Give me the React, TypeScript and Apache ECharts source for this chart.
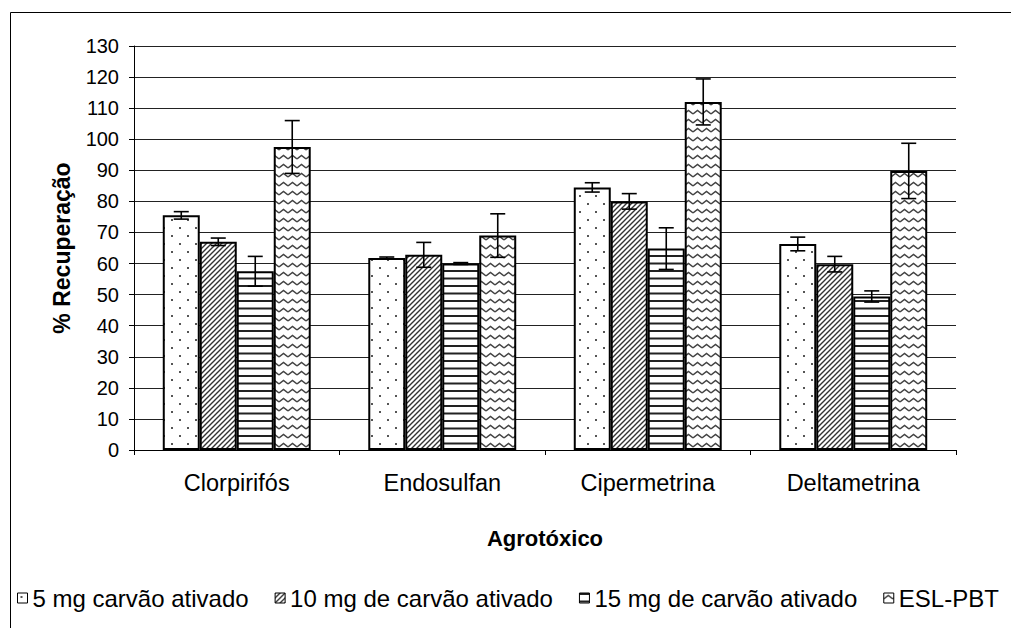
import React, { useEffect, useRef } from "react";
import * as echarts from "echarts";

const categories = ["Clorpirifós", "Endosulfan", "Cipermetrina", "Deltametrina"];
const seriesNames = [
  "5 mg carvão ativado",
  "10 mg de carvão ativado",
  "15 mg de carvão ativado",
  "ESL-PBT",
];
const values5mg = [75.5, 61.8, 84.5, 66.3];
const err5mg = [1.2, 0.3, 1.5, 2.2];
const values10mg = [67.0, 62.8, 80.0, 59.8];
const err10mg = [1.2, 4.0, 2.5, 2.5];
const values15mg = [57.5, 60.0, 64.8, 49.4];
const err15mg = [4.8, 0.3, 6.7, 1.8];
const valuesESL = [97.5, 69.0, 112.0, 89.8];
const errESL = [8.5, 7.0, 7.4, 8.9];

const yMin = 0;
const yMax = 130;
const yInterval = 10;

const FONT = "'Liberation Sans', Arial, sans-serif";

function makePattern(kind: string): HTMLCanvasElement {
  const c = document.createElement("canvas");
  let w = 16;
  let h = 16;
  if (kind === "diag") { w = 5; h = 5; }
  if (kind === "hline") { w = 8; h = 15; }
  if (kind === "wave") { w = 9; h = 9; }
  c.width = w;
  c.height = h;
  const ctx = c.getContext("2d")!;
  ctx.fillStyle = "#ffffff";
  ctx.fillRect(0, 0, w, h);
  if (kind === "dots") {
    ctx.fillStyle = "#555";
    ctx.fillRect(3, 3, 2, 2);
    ctx.fillRect(11, 11, 2, 2);
  } else if (kind === "diag") {
    ctx.strokeStyle = "#333";
    ctx.lineWidth = 1.4;
    ctx.beginPath();
    ctx.moveTo(-1, h + 1);
    ctx.lineTo(w + 1, -1);
    ctx.moveTo(-2, 2);
    ctx.lineTo(2, -2);
    ctx.moveTo(w - 2, h + 2);
    ctx.lineTo(w + 2, h - 2);
    ctx.stroke();
  } else if (kind === "hline") {
    ctx.fillStyle = "#222";
    ctx.fillRect(0, 0, w, 2);
    ctx.fillRect(0, 7.5, w, 2);
  } else if (kind === "wave") {
    ctx.strokeStyle = "#444";
    ctx.lineWidth = 1.5;
    ctx.beginPath();
    ctx.moveTo(0, 6);
    ctx.lineTo(4.5, 2.5);
    ctx.lineTo(9, 6);
    ctx.stroke();
  }
  return c;
}

export default function App() {
  const ref = useRef<HTMLDivElement>(null);
  useEffect(() => {
    if (!ref.current) return;
    const chart = echarts.init(ref.current, undefined, { renderer: "svg" });
    const allValues = [values5mg, values10mg, values15mg, valuesESL];
    const allErrs = [err5mg, err10mg, err15mg, errESL];
    const kinds = ["dots", "diag", "hline", "wave"];
    const catGap = 0.28;
    const barSeries = allValues.map((vals, i) => ({
      type: "bar",
      name: seriesNames[i],
      data: vals,
      barGap: "0%",
      barCategoryGap: catGap * 100 + "%",
      itemStyle: {
        color: { image: makePattern(kinds[i]), repeat: "repeat" },
        borderColor: "#000",
        borderWidth: 2,
      },
      emphasis: { disabled: true },
    }));
    const errSeries = allValues.map((vals, i) => ({
      type: "custom",
      name: seriesNames[i] + "_err",
      z: 10,
      data: vals.map((v, j) => [j, v, allErrs[i][j]]),
      encode: { x: 0, y: 1 },
      renderItem: (params: any, api: any) => {
        const idx = api.value(0);
        const v = api.value(1);
        const e = api.value(2);
        const band = api.size([1, 0])[0];
        const barW = (band * (1 - catGap)) / 4;
        const center = api.coord([idx, 0])[0];
        const x = center + (i - 1.5) * barW;
        const top = api.coord([idx, v + e])[1];
        const bot = api.coord([idx, v - e])[1];
        const hw = 7.5;
        const st = { stroke: "#000", lineWidth: 1.6 };
        return {
          type: "group",
          children: [
            { type: "line", shape: { x1: x, y1: top, x2: x, y2: bot }, style: st },
            { type: "line", shape: { x1: x - hw, y1: top, x2: x + hw, y2: top }, style: st },
            { type: "line", shape: { x1: x - hw, y1: bot, x2: x + hw, y2: bot }, style: st },
          ],
        };
      },
    }));
    chart.setOption({
      animation: false,
      backgroundColor: "#ffffff",
      textStyle: { fontFamily: FONT },
      grid: {
        left: 134,
        right: 55,
        top: 46,
        bottom: 178,
        outerBoundsMode: "none",
      },
      legend: {
        data: seriesNames,
        left: 12,
        top: 581,
        width: 2000,
        orient: "horizontal",
        itemWidth: 10,
        itemHeight: 10,
        itemGap: 26,
        selectedMode: false,
        icon: "rect",
        itemStyle: { borderColor: "#000", borderWidth: 1 },
        textStyle: { fontSize: 24, color: "#000", fontFamily: FONT },
      },
      graphic: [
        {
          type: "rect",
          shape: { x: 10.5, y: 12.5, width: 1200, height: 800 },
          style: { fill: "none", stroke: "#000", lineWidth: 1 },
          silent: true,
          z: -1,
        },
      ],
      xAxis: {
        type: "category",
        data: categories,
        name: "Agrotóxico",
        nameLocation: "middle",
        nameGap: 77,
        nameTextStyle: { fontSize: 22, fontWeight: "bold", color: "#000", fontFamily: FONT },
        axisLine: { lineStyle: { color: "#000", width: 1 } },
        axisTick: { show: true, length: 5, lineStyle: { color: "#000" } },
        axisLabel: { fontSize: 23.5, color: "#000", margin: 21, fontFamily: FONT },
        splitLine: { show: false },
      },
      yAxis: {
        type: "value",
        min: yMin,
        max: yMax,
        interval: yInterval,
        name: "% Recuperação",
        nameLocation: "middle",
        nameGap: 61,
        nameTextStyle: { fontSize: 23, fontWeight: "bold", color: "#000", fontFamily: FONT },
        axisLine: { show: true, lineStyle: { color: "#000", width: 1 } },
        axisTick: { show: true, length: 5, lineStyle: { color: "#000" } },
        axisLabel: { fontSize: 20, color: "#000", margin: 15, fontFamily: FONT },
        splitLine: { show: true, lineStyle: { color: "#222", width: 1 } },
      },
      series: [...barSeries, ...errSeries],
    });
    return () => chart.dispose();
  }, []);
  return <div ref={ref} style={{ width: 1011, height: 628, position: "absolute", left: 0, top: 0 }} />;
}
